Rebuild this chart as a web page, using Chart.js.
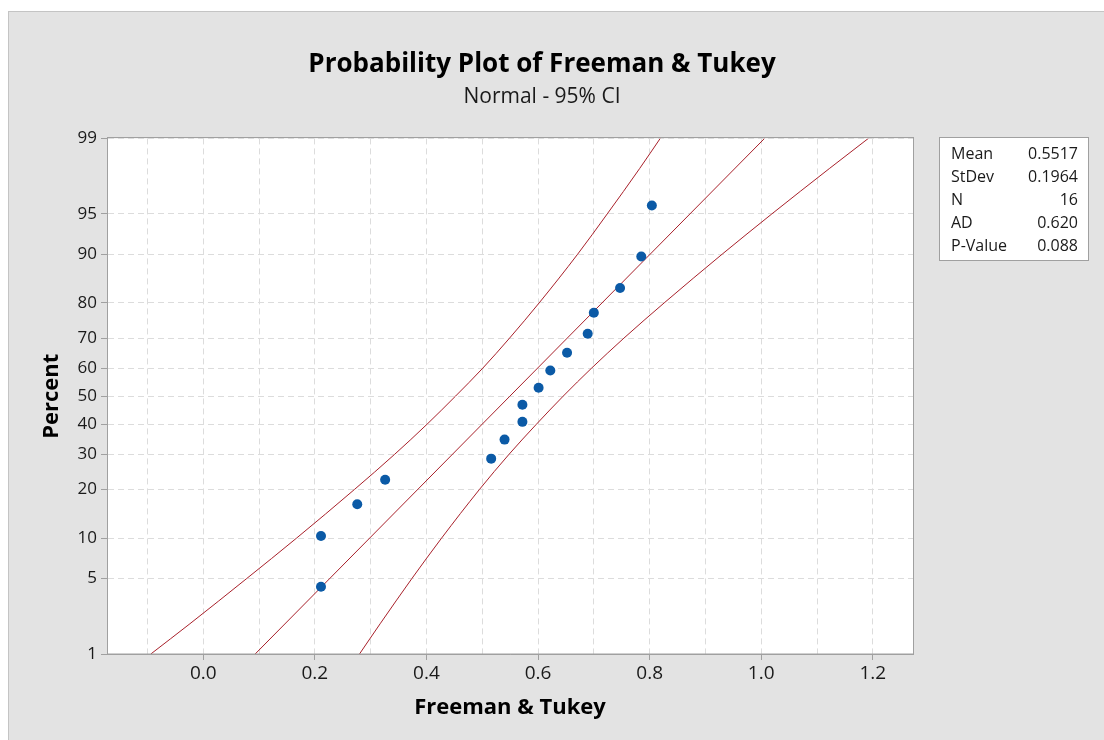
<!DOCTYPE html>
<html lang="en">
<head>
<meta charset="UTF-8">
<title>Probability Plot of Freeman &amp; Tukey</title>
<script src="https://cdn.jsdelivr.net/npm/chart.js"></script>
<style>
  body { margin: 0; background: #fff; }
</style>
</head>
<body>
<canvas id="probPlot" width="1104" height="740"></canvas>
<script>
// observed Freeman & Tukey values and their plotting positions (percent)
const obsValues = [0.211, 0.211, 0.276, 0.326, 0.516, 0.540, 0.572, 0.572,
                   0.601, 0.622, 0.652, 0.689, 0.700, 0.747, 0.785, 0.804];
const obsPercent = [4.27, 10.37, 16.46, 22.56, 28.66, 34.76, 40.85, 46.95,
                    53.05, 59.15, 65.24, 71.34, 77.44, 83.54, 89.63, 95.73];

// fitted normal line (ends read at the bottom and top of the plot)
const fitValues = [0.093, 1.006];
const fitPercent = [1, 99];

// 95% confidence band, read at each percent level
const bandPercent = [1, 2, 5, 10, 20, 30, 40, 50, 60, 70, 80, 90, 95, 98, 99];
const bandLower = [-0.094, -0.024, 0.078, 0.167, 0.271, 0.343, 0.401, 0.452,
                   0.501, 0.549, 0.602, 0.671, 0.724, 0.782, 0.819];
const bandUpper = [0.280, 0.317, 0.374, 0.427, 0.495, 0.548, 0.597, 0.645,
                   0.696, 0.754, 0.826, 0.930, 1.019, 1.122, 1.192];

// axis ticks
const percentTicks = [1, 5, 10, 20, 30, 40, 50, 60, 70, 80, 90, 95, 99];
const xGridTicks = [-0.1, 0, 0.1, 0.2, 0.3, 0.4, 0.5, 0.6, 0.7, 0.8, 0.9, 1.0, 1.1, 1.2];

// summary table
const statLabels = ['Mean', 'StDev', 'N', 'AD', 'P-Value'];
const statValues = ['0.5517', '0.1964', '16', '0.620', '0.088'];

const FONT = "'Open Sans', 'Noto Sans', sans-serif";
const LINE_RED = '#a8202a';
const AXIS_GRAY = '#a0a0a0';

// inverse of the standard normal cdf (Acklam)
function normInv(p) {
    const a = [-39.69683028665376, 220.9460984245205, -275.9285104469687, 138.3577518672690, -30.66479806614716, 2.506628277459239];
    const b = [-54.47609879822406, 161.5858368580409, -155.6989798598866, 66.80131188771972, -13.28068155288572];
    const c = [-0.007784894002430293, -0.3223964580411365, -2.400758277161838, -2.549732539343734, 4.374664141464968, 2.938163982698783];
    const d = [0.007784695709041462, 0.3224671290700398, 2.445134137142996, 3.754408661907416];
    if (p <= 0) return -Infinity;
    if (p >= 1) return Infinity;
    const pl = 0.02425;
    let q, r;
    if (p < pl) {
        q = Math.sqrt(-2 * Math.log(p));
        return (((((c[0]*q+c[1])*q+c[2])*q+c[3])*q+c[4])*q+c[5]) / ((((d[0]*q+d[1])*q+d[2])*q+d[3])*q+1);
    }
    if (p > 1 - pl) {
        q = Math.sqrt(-2 * Math.log(1 - p));
        return -(((((c[0]*q+c[1])*q+c[2])*q+c[3])*q+c[4])*q+c[5]) / ((((d[0]*q+d[1])*q+d[2])*q+d[3])*q+1);
    }
    q = p - 0.5;
    r = q * q;
    return (((((a[0]*r+a[1])*r+a[2])*r+a[3])*r+a[4])*r+a[5])*q / (((((b[0]*r+b[1])*r+b[2])*r+b[3])*r+b[4])*r+1);
}

// percent axis on a normal-probability scale
class ProbitScale extends Chart.LinearScale {
    getPixelForValue(value) {
        const lo = normInv(this.min / 100), hi = normInv(this.max / 100);
        return this.getPixelForDecimal((normInv(value / 100) - lo) / (hi - lo));
    }
    getValueForPixel(pixel) {
        const lo = normInv(this.min / 100), hi = normInv(this.max / 100);
        const z = lo + this.getDecimalForPixel(pixel) * (hi - lo);
        // rough inverse by bisection
        let a = 0.0001, b = 99.9999;
        for (let i = 0; i < 40; i++) {
            const m = (a + b) / 2;
            if (normInv(m / 100) < z) a = m; else b = m;
        }
        return (a + b) / 2;
    }
}
ProbitScale.id = 'probit';
ProbitScale.defaults = Chart.LinearScale.defaults;
Chart.register(ProbitScale);

const toPoints = (xs, ys) => xs.map((x, i) => ({ x: x, y: ys[i] }));

// grey panel, white plot area, plot frame and the stats box
const framePlugin = {
    id: 'frame',
    beforeDraw(chart) {
        const ctx = chart.ctx, a = chart.chartArea;
        ctx.save();
        ctx.fillStyle = '#ffffff';
        ctx.fillRect(0, 0, chart.width, chart.height);
        ctx.fillStyle = '#e3e3e3';
        ctx.fillRect(8, 11, chart.width - 8, chart.height - 11);
        ctx.strokeStyle = '#c4c4c4';
        ctx.lineWidth = 1;
        ctx.strokeRect(8.5, 11.5, chart.width, chart.height);
        ctx.fillStyle = '#ffffff';
        ctx.fillRect(a.left, a.top, a.right - a.left, a.bottom - a.top);
        ctx.restore();
    },
    afterDraw(chart) {
        const ctx = chart.ctx, a = chart.chartArea;
        ctx.save();
        ctx.strokeStyle = AXIS_GRAY;
        ctx.lineWidth = 1;
        ctx.strokeRect(Math.round(a.left) + 0.5, Math.round(a.top) - 0.5,
                       Math.round(a.right - a.left), Math.round(a.bottom - a.top) + 0.5);

        // stats box
        const bx = 939.5, by = 137.5, bw = 149, bh = 123;
        ctx.fillStyle = '#ffffff';
        ctx.fillRect(bx, by, bw, bh);
        ctx.strokeStyle = AXIS_GRAY;
        ctx.strokeRect(bx, by, bw, bh);
        ctx.fillStyle = '#1a1a1a';
        ctx.font = '16px ' + FONT;
        ctx.textBaseline = 'middle';
        statLabels.forEach((lab, i) => {
            const y = 154 + i * 23;
            ctx.textAlign = 'left';
            ctx.fillText(lab, 951, y);
            ctx.textAlign = 'right';
            ctx.fillText(statValues[i], 1078, y);
        });
        ctx.restore();
    }
};

new Chart(document.getElementById('probPlot'), {
    type: 'scatter',
    data: {
        datasets: [
            {
                label: 'Freeman & Tukey',
                data: toPoints(obsValues, obsPercent),
                backgroundColor: '#0b5aa6',
                borderWidth: 0,
                pointRadius: 5,
                pointHoverRadius: 5
            },
            {
                label: 'Fit',
                type: 'line',
                data: toPoints(fitValues, fitPercent),
                borderColor: LINE_RED,
                borderWidth: 1,
                pointRadius: 0,
                fill: false
            },
            {
                label: 'Lower CI',
                type: 'line',
                data: toPoints(bandLower, bandPercent),
                borderColor: LINE_RED,
                borderWidth: 1,
                pointRadius: 0,
                cubicInterpolationMode: 'monotone',
                fill: false
            },
            {
                label: 'Upper CI',
                type: 'line',
                data: toPoints(bandUpper, bandPercent),
                borderColor: LINE_RED,
                borderWidth: 1,
                pointRadius: 0,
                cubicInterpolationMode: 'monotone',
                fill: false
            }
        ]
    },
    options: {
        responsive: false,
        animation: false,
        layout: { padding: { left: 0, right: 20, top: 0, bottom: 0 } },
        plugins: {
            legend: { display: false },
            tooltip: { enabled: false },
            title: {
                display: true,
                text: 'Probability Plot of Freeman & Tukey',
                color: '#000',
                font: { family: FONT, size: 26, weight: 'bold' },
                padding: { top: 49, bottom: 0 }
            },
            subtitle: {
                display: true,
                text: 'Normal - 95% CI',
                color: '#1a1a1a',
                font: { family: FONT, size: 21 },
                padding: { top: 4, bottom: 29 }
            }
        },
        scales: {
            x: {
                type: 'linear',
                min: -0.1725,
                max: 1.272,
                afterBuildTicks: s => { s.ticks = xGridTicks.map(v => ({ value: v })); },
                afterFit: s => { s.height = 86; },
                grid: {
                    color: '#dcdcdc',
                    tickLength: 6,
                    tickColor: c => (Math.round(c.tick.value * 10) % 2 === 0 && c.tick.value >= 0) ? AXIS_GRAY : 'rgba(0,0,0,0)',
                    tickBorderDash: []
                },
                border: { color: AXIS_GRAY, dash: [6, 4] },
                ticks: {
                    color: '#1a1a1a',
                    padding: 2,
                    font: { family: FONT, size: 19 },
                    callback: v => (Math.round(v * 10) % 2 === 0 && v >= 0) ? v.toFixed(1) : ''
                },
                title: {
                    display: true,
                    text: 'Freeman & Tukey',
                    color: '#000',
                    font: { family: FONT, size: 22, weight: 'bold' },
                    padding: { top: 0, bottom: 19 }
                }
            },
            y: {
                type: 'probit',
                position: 'left',
                min: 1,
                max: 99,
                afterBuildTicks: s => { s.ticks = percentTicks.map(v => ({ value: v })); },
                afterFit: s => { s.width = 107; },
                grid: {
                    color: '#dcdcdc',
                    tickLength: 6,
                    tickColor: AXIS_GRAY,
                    tickBorderDash: []
                },
                border: { color: AXIS_GRAY, dash: [6, 4] },
                ticks: {
                    color: '#1a1a1a',
                    padding: 4,
                    font: { family: FONT, size: 17 },
                    callback: v => String(v)
                },
                title: {
                    display: true,
                    text: 'Percent',
                    color: '#000',
                    font: { family: FONT, size: 22, weight: 'bold' },
                    padding: { top: 39, bottom: 0 }
                }
            },
            // empty right-hand strip that keeps room for the stats box
            side: {
                type: 'linear',
                position: 'right',
                min: 0,
                max: 1,
                afterFit: s => { s.width = 171; },
                grid: { display: false, drawTicks: false },
                border: { display: false },
                ticks: { display: false }
            }
        }
    },
    plugins: [framePlugin]
});
</script>
</body>
</html>
